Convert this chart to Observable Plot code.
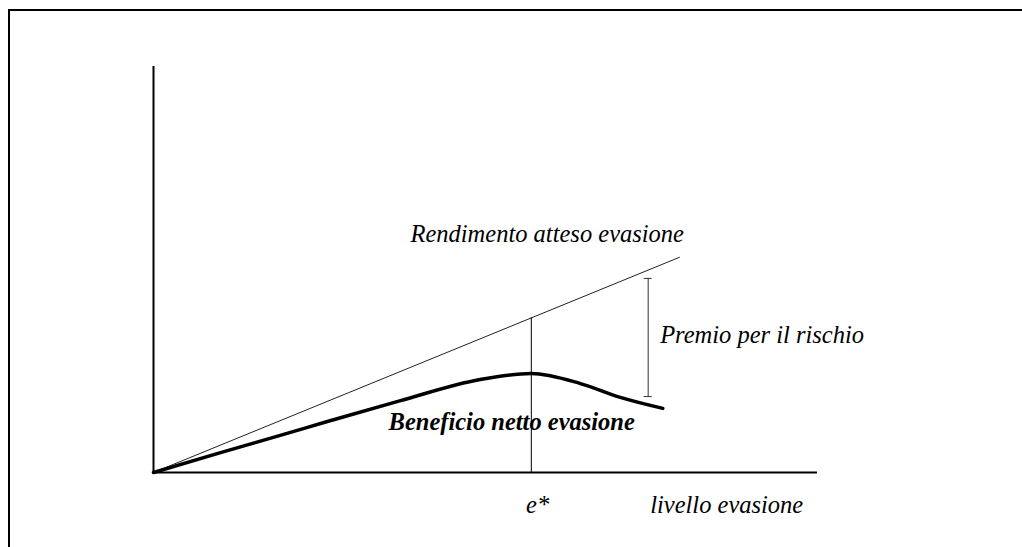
<!DOCTYPE html>
<html>
<head>
<meta charset="utf-8">
<script src="https://cdn.jsdelivr.net/npm/d3@7"></script>
<script src="https://cdn.jsdelivr.net/npm/@observablehq/plot@0.6"></script>
<style>
  html, body { margin: 0; padding: 0; background: #fff; overflow: hidden; }
  #wrap { position: relative; width: 1022px; height: 547px; }
  #frame { position: absolute; left: 8px; top: 9px; width: 1100px; height: 600px;
           border-left: 2px solid #000; border-top: 2px solid #000; pointer-events: none; }
</style>
</head>
<body>
<div id="wrap"><div id="frame"></div></div>
<script>
// Axes extents (data units)
const axisX = [0, 10];
const axisY = [0, 10];

// Rendimento atteso evasione (straight line)
const rendX = [0, 7.92];
const rendY = [0, 5.30];

// Beneficio netto evasione (curve)
const benX = [0, 1.01, 1.96, 2.67, 3.72, 4.92, 5.69, 6.43, 7.03, 7.67];
const benY = [0, 0.49, 0.94, 1.28, 1.77, 2.29, 2.44, 2.19, 1.85, 1.58];

// e* marker
const eStar = 5.69;
const eStarTop = 3.81;

// Premio per il rischio bar
const premioX = 7.45;
const premioTop = 4.78;
const premioBottom = 1.87;

// Labels
const labels = [
  {text: "Rendimento atteso evasione", x: 3.87, y: 5.67, bold: false},
  {text: "Premio per il rischio", x: 7.63, y: 3.2, bold: false},
  {text: "Beneficio netto evasione", x: 3.54, y: 1.05, bold: true},
  {text: "e*", x: 5.61, y: -1.0, bold: false},
  {text: "livello evasione", x: 7.48, y: -1.0, bold: false}
];

const rend = rendX.map((x, i) => ({x, y: rendY[i]}));
const ben = benX.map((x, i) => ({x, y: benY[i]}));
const font = "'Liberation Serif', 'Times New Roman', serif";

const chart = Plot.plot({
  width: 1022,
  height: 547,
  marginLeft: 153,
  marginRight: 205,
  marginTop: 66,
  marginBottom: 75,
  x: {domain: axisX, axis: null},
  y: {domain: axisY, axis: null},
  style: {background: "transparent"},
  marks: [
    Plot.ruleX([axisX[0]], {y1: axisY[0], y2: axisY[1], stroke: "#000", strokeWidth: 2}),
    Plot.ruleY([axisY[0]], {x1: axisX[0], x2: axisX[1], stroke: "#000", strokeWidth: 2}),
    Plot.line(rend, {x: "x", y: "y", stroke: "#222", strokeWidth: 1}),
    Plot.ruleX([eStar], {y1: 0, y2: eStarTop, stroke: "#000", strokeWidth: 1}),
    Plot.line(ben, {x: "x", y: "y", curve: "monotone-x", stroke: "#000", strokeWidth: 3.5}),
    Plot.ruleX([premioX], {y1: premioBottom, y2: premioTop, stroke: "#333", strokeWidth: 1}),
    Plot.ruleY([premioTop, premioBottom], {x1: premioX, x2: premioX, insetLeft: -4, insetRight: -4, stroke: "#333", strokeWidth: 1}),
    Plot.text(labels.filter(d => !d.bold), {x: "x", y: "y", text: "text", textAnchor: "start", lineAnchor: "bottom",
      fontFamily: font, fontStyle: "italic", fontSize: 24.5, fill: "#000"}),
    Plot.text(labels.filter(d => d.bold), {x: "x", y: "y", text: "text", textAnchor: "start", lineAnchor: "bottom",
      fontFamily: font, fontStyle: "italic", fontWeight: "bold", fontSize: 24.5, fill: "#000"})
  ]
});
document.getElementById("wrap").insertBefore(chart, document.getElementById("frame"));
</script>
</body>
</html>
